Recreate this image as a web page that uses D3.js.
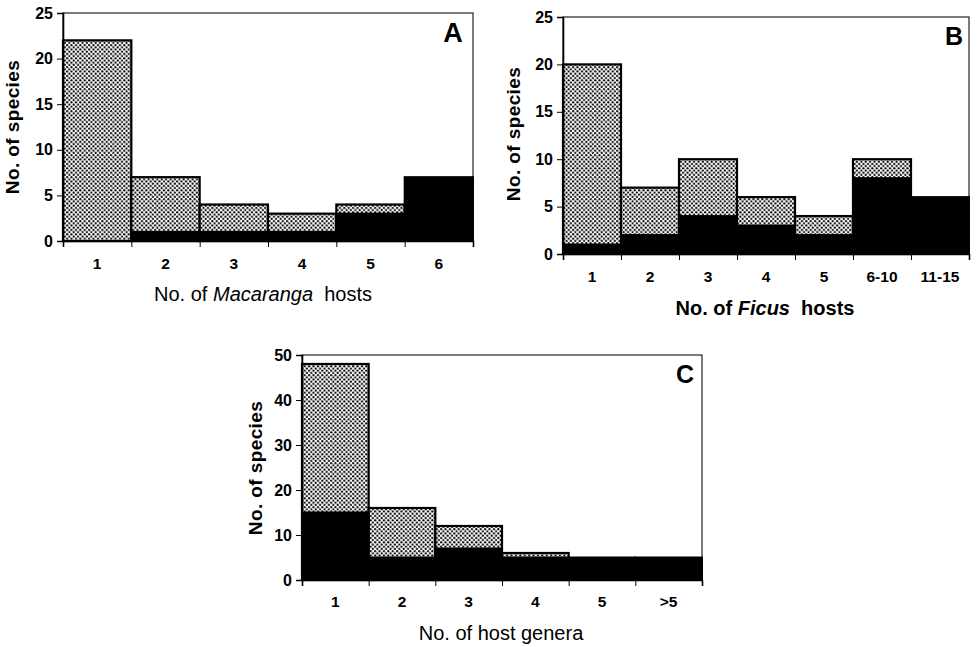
<!DOCTYPE html>
<html><head><meta charset="utf-8">
<script src="https://cdn.jsdelivr.net/npm/d3@7"></script>
<style>body{margin:0;background:#fff}svg{display:block}text{font-family:"Liberation Sans",Arial,Helvetica,sans-serif}</style>
</head><body>
<svg id="c" width="977" height="647"></svg>
<script>
// ---- data ----
const catsA = ["1","2","3","4","5","6"];
const totalA = [22,7,4,3,4,7];
const blackA = [0,1,1,1,3,7];
const catsB = ["1","2","3","4","5","6-10","11-15"];
const totalB = [20,7,10,6,4,10,6];
const blackB = [1,2,4,3,2,8,6];
const catsC = ["1","2","3","4","5",">5"];
const totalC = [48,16,12,6,5,5];
const blackC = [15,5,7,5,5,5];
const yTicksAB = [0,5,10,15,20,25];
const yTicksC = [0,10,20,30,40,50];

const svg = d3.select("#c");
const defs = svg.append("defs");
const pat = defs.append("pattern").attr("id","dots").attr("patternUnits","userSpaceOnUse")
  .attr("width",4.4).attr("height",4.4);
pat.append("rect").attr("width",4.4).attr("height",4.4).attr("fill","#fff");
pat.append("circle").attr("cx",1.1).attr("cy",1.1).attr("r",1.1).attr("fill","#000");
pat.append("circle").attr("cx",3.3).attr("cy",3.3).attr("r",1.1).attr("fill","#000");

function panel(o){
  const g = svg.append("g");
  const x = d3.scaleBand().domain(o.cats).range([o.l,o.r]).padding(0);
  const xi = d3.scaleLinear().domain([0,o.cats.length]).range([o.l,o.r]);
  const y = d3.scaleLinear().domain([0,o.ymax]).range([o.b,o.t]);
  // frame
  g.append("rect").attr("x",o.l).attr("y",o.t).attr("width",o.r-o.l).attr("height",o.b-o.t)
    .attr("fill","none").attr("stroke","#222").attr("stroke-width",1.2);
  const data = o.cats.map((c,i)=>({c,t:o.total[i],k:o.black[i]}));
  // dotted (total)
  g.selectAll(".dt").data(data.filter(d=>d.t>d.k)).join("rect")
    .attr("x",d=>x(d.c)).attr("width",x.bandwidth())
    .attr("y",d=>y(d.t)).attr("height",d=>y(0)-y(d.t))
    .attr("fill","url(#dots)").attr("stroke","#000").attr("stroke-width",2.2);
  // black
  g.selectAll(".bk").data(data.filter(d=>d.k>0)).join("rect")
    .attr("x",d=>x(d.c)).attr("width",x.bandwidth())
    .attr("y",d=>y(d.k)).attr("height",d=>y(0)-y(d.k))
    .attr("fill","#000").attr("stroke","#000").attr("stroke-width",2);
  // y axis
  const ya = g.append("g").attr("transform",`translate(${o.l},0)`)
    .call(d3.axisLeft(y).tickValues(o.yticks).tickSize(6).tickPadding(4));
  ya.select(".domain").attr("stroke-width",1.6);
  ya.selectAll("text").attr("font-size",16).attr("font-weight","bold").attr("fill","#000");
  // x axis ticks at boundaries
  const xa = g.append("g").attr("transform",`translate(0,${o.b})`)
    .call(d3.axisBottom(xi).tickValues(d3.range(o.cats.length+1)).tickSize(6).tickFormat(""));
  xa.select(".domain").attr("stroke-width",1.6);
  // x labels
  const xl = g.append("g").attr("transform",`translate(0,${o.b})`)
    .call(d3.axisBottom(x).tickSize(0).tickPadding(o.xpad));
  xl.select(".domain").remove();
  xl.selectAll("text").attr("font-size",15.5).attr("font-weight","bold").attr("fill","#000");
  // x title
  const xt = g.append("text").attr("x",o.xtx).attr("y",o.xty).attr("text-anchor","middle")
    .attr("font-size",20).attr("font-weight",o.xtw).attr("fill","#000");
  o.xtitle.forEach(p=>xt.append("tspan").attr("font-style",p[1]?"italic":"normal").text(p[0]));
  // y title
  g.append("text").attr("transform",`translate(${o.ytx},${o.yty}) rotate(-90)`)
    .attr("text-anchor","middle").attr("font-size",19).attr("font-weight","bold")
    .attr("letter-spacing",0.4).text("No. of species");
  // panel letter
  g.append("text").attr("x",o.lx).attr("y",o.ly).attr("text-anchor","middle")
    .attr("font-size",o.ls).attr("font-weight",900).text(o.label);
}

panel({cats:catsA,total:totalA,black:blackA,ymax:25,yticks:yTicksAB,l:63,r:473,t:13,b:241,xpad:17,
  xtitle:[["No. of ",false],["Macaranga",true],["\u00a0 hosts",false]],xtw:"normal",xtx:263,xty:301,
  ytx:19,yty:127,label:"A",lx:453,ly:42,ls:27});
panel({cats:catsB,total:totalB,black:blackB,ymax:25,yticks:yTicksAB,l:563,r:969,t:17,b:254,xpad:17,
  xtitle:[["No. of ",false],["Ficus",true],["\u00a0 hosts",false]],xtw:"bold",xtx:765,xty:315,
  ytx:520,yty:134,label:"B",lx:954,ly:45,ls:25});
panel({cats:catsC,total:totalC,black:blackC,ymax:50,yticks:yTicksC,l:302,r:702,t:355,b:580,xpad:16,
  xtitle:[["No. of host genera",false]],xtw:"normal",xtx:501,xty:640,
  ytx:262,yty:468,label:"C",lx:685,ly:383,ls:25});
</script>
</body></html>
